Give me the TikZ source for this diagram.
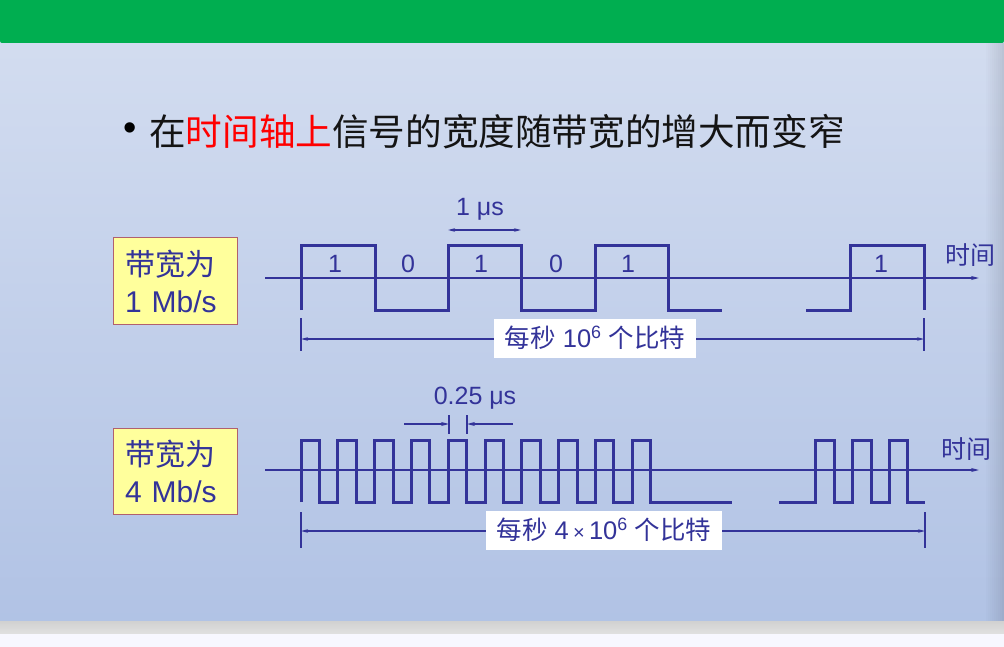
\documentclass[tikz,border=0pt]{standalone}
\usepackage{fontspec}
\setmainfont{Liberation Sans}
\newfontfamily\cjk{Noto Sans CJK SC}
\usepackage{xcolor}
\usetikzlibrary{calc, positioning, arrows.meta}
\definecolor{wave}{RGB}{51, 51, 153}
\definecolor{banner}{RGB}{0, 174, 80}
\definecolor{bwfill}{RGB}{255, 255, 156}
\definecolor{bwedge}{RGB}{176, 96, 110}
\definecolor{bgtop}{RGB}{227, 233, 245}
\definecolor{bgmid}{RGB}{175, 193, 228}
\definecolor{bgbot}{RGB}{190, 206, 234}
\pgfdeclareverticalshading{slidebg}{100bp}{color(0bp)=(bgbot); color(22bp)=(bgmid); color(100bp)=(bgtop)}

\begin{document}
\begin{tikzpicture}[x=1pt, y=-1pt,
    tip/.style={-{Stealth[length=8pt, width=4pt]}},
    wavel/.style={wave, line width=3pt, line join=miter},
    axisl/.style={wave, line width=2pt, tip},
    dimtick/.style={wave, line width=1.6pt},
    dimarr/.style={wave, line width=1.6pt, {Stealth[length=7pt, width=3.5pt]}-{Stealth[length=7pt, width=3.5pt]}},
    bwbox/.style={fill=bwfill, draw=bwedge, line width=1pt, text=wave, align=left,
      text width=100pt, inner xsep=12pt, minimum height=86pt, font=\fontsize{30}{37}\selectfont},
    bitlbl/.style={text=wave, font=\fontsize{25}{28}\selectfont},
    timelbl/.style={text=wave, font=\cjk\fontsize{25}{27}\selectfont},
    countlbl/.style={fill=white, text=wave, inner xsep=11pt, minimum height=39pt, font=\fontsize{25.5}{28}\selectfont}]
  \useasboundingbox (0,0) rectangle (1004,647);

  % slide background
  \shade[shading=slidebg] (0,43) rectangle (1004,621);
  \foreach \i in {0,...,9}
    \fill[black, opacity=0.012*\i] (984+2*\i,43) rectangle (986+2*\i,634);
  \shade[top color=black!18, bottom color=black!12] (0,621) rectangle (1004,634);
  \fill[blue!3!white] (0,634) rectangle (1004,647);
  \fill[banner, rounded corners=2pt] (0,-5) rectangle (1004,43);

  % title
  \node[font=\fontsize{38}{40}\selectfont] (dot) at (130,132) {•};
  \node[anchor=west, inner sep=0pt, text=black!92, font=\cjk\fontsize{36.6}{40}\selectfont] (title) at (149,132)
    {在\textcolor{red}{时间轴上}信号的宽度随带宽的增大而变窄};

  % 1 Mb/s
  \node[bwbox] (bw1) at (175,281) {{\cjk 带宽为}\\1 Mb/s};
  \coordinate (ax1s) at (265,278);
  \coordinate (ax1e) at (979,278);
  \draw[axisl] (ax1s) -- (ax1e);
  \node[timelbl] (time1) at (970,255) {时间};
  \draw[wavel] (301,310) -- (301,246) -- (375,246) -- (375,310) -- (448,310) -- (448,246)
    -- (521,246) -- (521,310) -- (595,310) -- (595,246) -- (668,246) -- (668,310) -- (722,310);
  \draw[wavel] (806,310) -- (850,310) -- (850,246) -- (924,246) -- (924,310);
  \foreach \x/\b [count=\i] in {335/1, 408/0, 481/1, 556/0, 628/1, 881/1}
    \node[bitlbl] (bit\i) at (\x,264) {\b};

  \coordinate (us1a) at (448,230);
  \coordinate (us1b) at (521,230);
  \draw[dimarr] (us1a) -- (us1b);
  \node[bitlbl] (us1) at (480,209) {1 μs};

  \coordinate (d1l) at (301,339);
  \coordinate (d1r) at (924,339);
  \draw[dimtick] (301,318) -- (301,351);
  \draw[dimtick] (924,318) -- (924,351);
  \draw[dimarr] (d1l) -- (d1r);
  \node[countlbl] (cnt1) at (595,338) {{\cjk 每秒} 10\textsuperscript{6} {\cjk 个比特}};

  % 4 Mb/s
  \node[bwbox] (bw4) at (175,471) {{\cjk 带宽为}\\4 Mb/s};
  \coordinate (ax2s) at (265,470);
  \coordinate (ax2e) at (979,470);
  \draw[axisl] (ax2s) -- (ax2e);
  \node[timelbl] (time2) at (966,449) {时间};
  \draw[wavel] (301,502) \foreach \k in {0,...,9} { -- ++(0,-62) -- ++(18.4,0) -- ++(0,62) -- ++(18.4,0) } -- (732,502);
  \draw[wavel] (779,502) -- (815,502) -- (815,440) -- (834,440) -- (834,502) -- (852,502) -- (852,440)
    -- (871,440) -- (871,502) -- (889,502) -- (889,440) -- (907,440) -- (907,502) -- (925,502);

  \coordinate (qa) at (449,424);
  \coordinate (qb) at (467,424);
  \coordinate (qal) at (404,424);
  \coordinate (qbr) at (513,424);
  \draw[dimtick] (449,415) -- (449,434);
  \draw[dimtick] (467,415) -- (467,434);
  \draw[dimtick, tip] (qal) -- (qa);
  \draw[dimtick, tip] (qbr) -- (qb);
  \node[bitlbl] (us4) at (475,398) {0.25 μs};

  \coordinate (d2l) at (301,531);
  \coordinate (d2r) at (925,531);
  \draw[dimtick] (301,512) -- (301,548);
  \draw[dimtick] (925,512) -- (925,548);
  \draw[dimarr] (d2l) -- (d2r);
  \node[countlbl] (cnt4) at (604,530) {{\cjk 每秒} 4\,{\fontsize{20}{22}\selectfont×}\,10\textsuperscript{6} {\cjk 个比特}};
\end{tikzpicture}
\end{document}
